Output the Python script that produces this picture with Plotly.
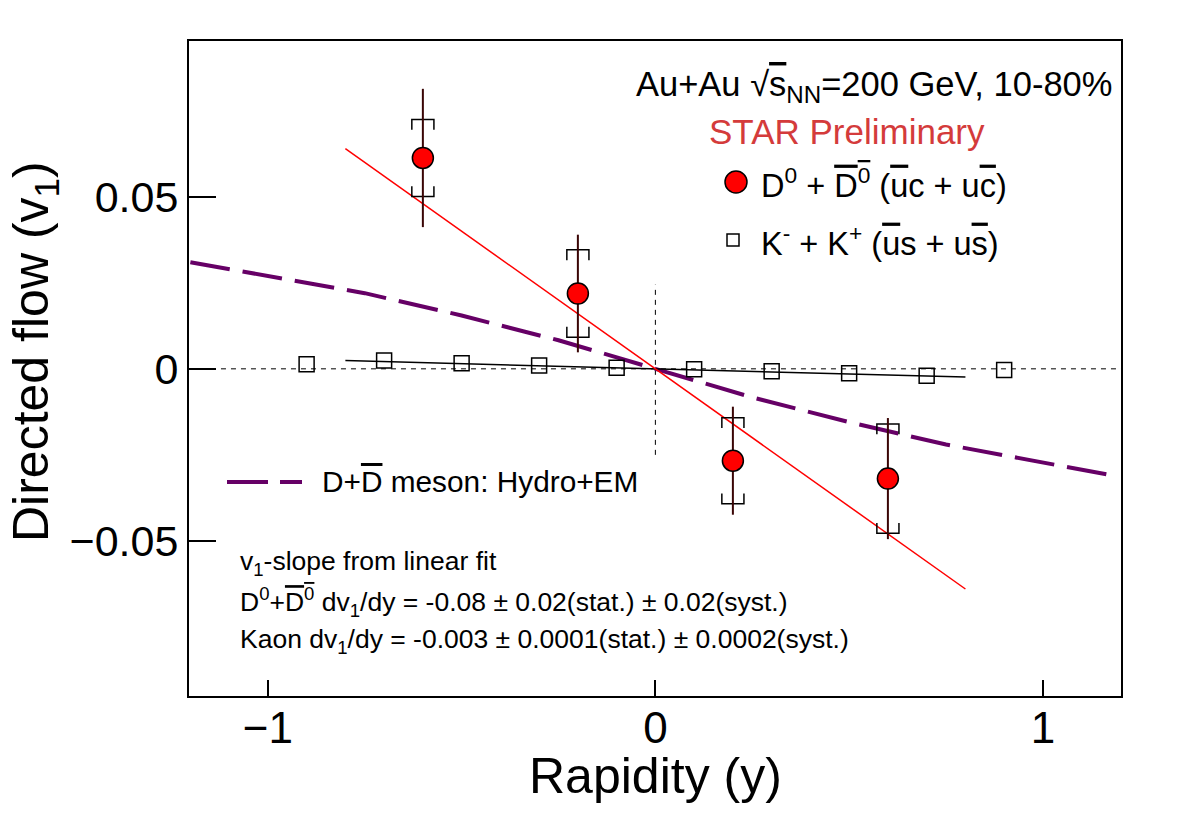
import plotly.graph_objects as go

# ---------------- data ----------------
d0_y_rap = [-0.6, -0.2, 0.2, 0.6]
d0_v1 = [0.0613, 0.0219, -0.0267, -0.0319]
d0_stat = [0.0201, 0.0171, 0.0157, 0.0176]
d0_sys = [0.0112, 0.0127, 0.0125, 0.0159]

k_y_rap = [-0.9, -0.7, -0.5, -0.3, -0.1, 0.1, 0.3, 0.5, 0.7, 0.9]
k_v1 = [0.0013, 0.0024, 0.0016, 0.0010, 0.0003, -0.0001, -0.0007, -0.0013, -0.0020, -0.0003]

fit_range = [-0.8, 0.8]
d0_slope = -0.08
k_slope = -0.003

hydro_y_rap = [-1.2, -0.75, -0.5, -0.25, 0.0, 0.25, 0.5, 0.75, 1.18]
hydro_v1 = [0.031, 0.022, 0.0155, 0.0083, 0.0, -0.0083, -0.0155, -0.022, -0.031]

x_ticks = [-1, 0, 1]
x_ticktext = ["\u22121", "0", "1"]
y_ticks = [-0.05, 0, 0.05]
y_ticktext = ["\u22120.05", "0", "0.05"]

# ---------------- layout geometry ----------------
W, H = 1182, 830
L, R, T, B = 189, 1121, 41, 696
FONT = "Liberation Sans, Arial, Helvetica, sans-serif"


def px(x):
    return (x - L) / (R - L)


def py(y):
    return (B - y) / (B - T)


OL = '<span style="text-decoration:overline">'
CL = '</span>'

fig = go.Figure()

# zero lines (dashed)
fig.add_trace(go.Scatter(x=[-1.25, 1.25], y=[0, 0], mode="lines",
                         line=dict(color="black", width=1, dash="5px,5px"),
                         hoverinfo="skip", showlegend=False))
fig.add_trace(go.Scatter(x=[0, 0], y=[-0.025, 0.0245], mode="lines",
                         line=dict(color="black", width=1, dash="5px,5px"),
                         hoverinfo="skip", showlegend=False))

# hydro model
fig.add_trace(go.Scatter(x=hydro_y_rap, y=hydro_v1, mode="lines",
                         line=dict(color="#660066", width=4, dash="40px,13px"),
                         hoverinfo="skip", showlegend=False))

# kaon fit
fig.add_trace(go.Scatter(x=fit_range, y=[k_slope * v for v in fit_range], mode="lines",
                         line=dict(color="black", width=1.5),
                         hoverinfo="skip", showlegend=False))

# kaon points
fig.add_trace(go.Scatter(x=k_y_rap, y=k_v1, mode="markers",
                         marker=dict(symbol="square-open", size=15, color="black",
                                     line=dict(width=1.5, color="black")),
                         showlegend=False))

# D0 fit
fig.add_trace(go.Scatter(x=fit_range, y=[d0_slope * v for v in fit_range], mode="lines",
                         line=dict(color="#ff0000", width=1.5),
                         hoverinfo="skip", showlegend=False))

# systematic brackets
bw = 0.0285   # half width in rapidity units
bt = 0.0030   # bracket tick length in v1 units
bx, by = [], []
for x, y, s in zip(d0_y_rap, d0_v1, d0_sys):
    top = y + s
    bot = y - s
    bx += [x - bw, x - bw, x + bw, x + bw, None]
    by += [top - bt, top, top, top - bt, None]
    bx += [x - bw, x - bw, x + bw, x + bw, None]
    by += [bot + bt, bot, bot, bot + bt, None]
fig.add_trace(go.Scatter(x=bx, y=by, mode="lines",
                         line=dict(color="black", width=1.5),
                         hoverinfo="skip", showlegend=False))

# D0 points with stat errors
fig.add_trace(go.Scatter(x=d0_y_rap, y=d0_v1, mode="markers",
                         marker=dict(symbol="circle", size=21, color="#ff0000",
                                     line=dict(width=1.5, color="black")),
                         error_y=dict(type="data", array=d0_stat, visible=True,
                                      color="#3a0505", thickness=2, width=0),
                         showlegend=False))

# ---------------- legend glyphs (shapes in paper coords) ----------------
shapes = []
cx, cy, r = 736, 182, 11
shapes.append(dict(type="circle", xref="paper", yref="paper",
                   x0=px(cx - r), x1=px(cx + r), y0=py(cy + r), y1=py(cy - r),
                   fillcolor="#ff0000", line=dict(color="black", width=1.5)))
sx, sy, h = 733, 240, 6
shapes.append(dict(type="rect", xref="paper", yref="paper",
                   x0=px(sx - h), x1=px(sx + h), y0=py(sy + h), y1=py(sy - h),
                   line=dict(color="black", width=1.5)))
shapes.append(dict(type="line", xref="paper", yref="paper",
                   x0=px(227), x1=px(302), y0=py(482), y1=py(482),
                   line=dict(color="#660066", width=4, dash="41px,12px")))

# ---------------- annotations ----------------
ann = []


def text(xp, yp, s, size, color="black", xanchor="left", angle=0):
    ann.append(dict(xref="paper", yref="paper", x=px(xp), y=py(yp), text=s,
                    showarrow=False, xanchor=xanchor, yanchor="middle",
                    textangle=angle,
                    font=dict(family=FONT, size=size, color=color)))


text(1114, 86, "Au+Au \u221a" + OL + "s" + CL + "<sub>NN</sub>=200 GeV, 10-80%", 34.5,
     xanchor="right")
text(847, 131, "STAR Preliminary", 35, color="#d43b3b", xanchor="center")
text(759, 183, "D<sup>0</sup> + " + OL + "D<sup>0</sup>" + CL + " (" + OL + "u" + CL +
     "c + u" + OL + "c" + CL + ")", 32.5)
text(759, 241, "K<sup>-</sup> + K<sup>+</sup> (" + OL + "u" + CL + "s + u" + OL + "s" + CL +
     ")", 32.5)
text(320, 481, "D+" + OL + "D" + CL + " meson: Hydro+EM", 29.8)
text(238, 563, "v<sub>1</sub>-slope from linear fit", 26.5)
text(238, 602, "D<sup>0</sup>+" + OL + "D<sup>0</sup>" + CL +
     " dv<sub>1</sub>/dy = -0.08 \u00b1 0.02(stat.) \u00b1 0.02(syst.)", 26.5)
text(238, 641, "Kaon dv<sub>1</sub>/dy = -0.003 \u00b1 0.0001(stat.) \u00b1 0.0002(syst.)", 26.5)
# axis titles
text(655, 776, "Rapidity (y)", 50, xanchor="center")
text(34, 352, "Directed flow (v<sub>1</sub>)", 50, xanchor="center", angle=-90)

fig.update_layout(
    width=W, height=H,
    margin=dict(l=L, r=W - R, t=T, b=H - B, pad=0),
    paper_bgcolor="white", plot_bgcolor="white",
    shapes=shapes, annotations=ann,
    showlegend=False,
    font=dict(family=FONT, color="black"),
    xaxis=dict(range=[-1.2035, 1.2015], tickvals=x_ticks, ticktext=x_ticktext,
               ticks="inside", ticklen=16, tickwidth=1.5, tickcolor="black",
               showline=True, linewidth=2, linecolor="black", mirror=True,
               showgrid=False, zeroline=False, ticklabelstandoff=-8,
               tickfont=dict(family=FONT, size=44, color="black")),
    yaxis=dict(range=[-0.0951, 0.0953], tickvals=y_ticks, ticktext=y_ticktext,
               ticks="inside", ticklen=27, tickwidth=1.5, tickcolor="black",
               showline=True, linewidth=2, linecolor="black", mirror=True,
               showgrid=False, zeroline=False,
               tickfont=dict(family=FONT, size=43, color="black")),
)

fig.write_html("out.html")
